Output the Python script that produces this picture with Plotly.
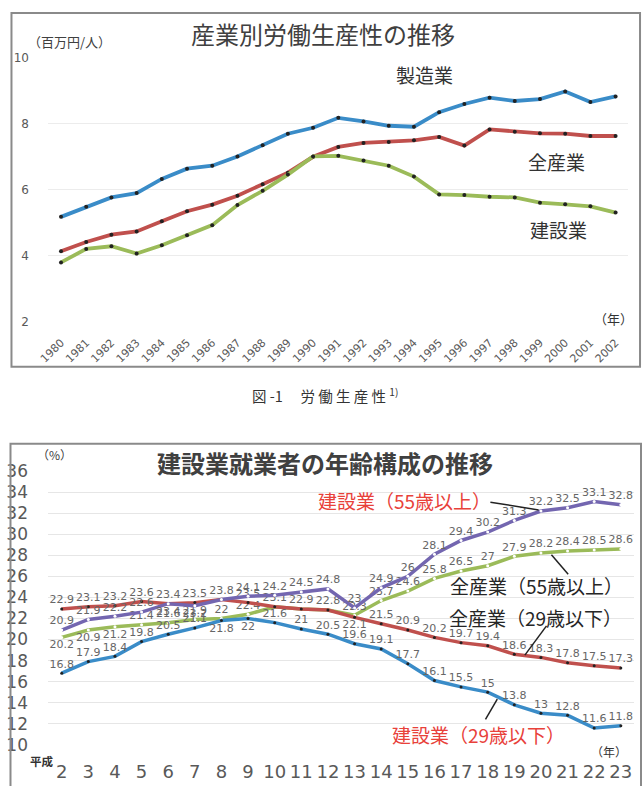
import plotly.graph_objects as go

W, H = 642, 786
FONT = "Noto Sans CJK JP"

# ---------- Chart 1 data ----------
years = list(range(1980, 2003))
year_labels = [str(y) for y in years]
manufacturing = [5.18, 5.49, 5.77, 5.90, 6.33, 6.64, 6.73, 7.01, 7.35, 7.70, 7.88, 8.18, 8.07,
                 7.94, 7.91, 8.35, 8.60, 8.79, 8.69, 8.75, 8.98, 8.66, 8.83]
all_industry = [4.14, 4.42, 4.64, 4.74, 5.05, 5.35, 5.55, 5.82, 6.17, 6.52, 7.00, 7.30, 7.42,
                7.45, 7.50, 7.60, 7.34, 7.83, 7.76, 7.71, 7.70, 7.63, 7.63]
construction = [3.80, 4.21, 4.29, 4.07, 4.32, 4.62, 4.93, 5.54, 5.97, 6.46, 7.01, 7.03, 6.89,
                6.73, 6.40, 5.86, 5.84, 5.79, 5.77, 5.61, 5.56, 5.50, 5.31]

# ---------- Chart 2 data ----------
heisei = list(range(2, 24))
con_u29 = [16.8, 17.9, 18.4, 19.8, 20.5, 21.1, 21.8, 22, 21.6, 21, 20.5, 19.6, 19.1, 17.7,
           16.1, 15.5, 15, 13.8, 13, 12.8, 11.6, 11.8]
all_u29 = [22.9, 23.1, 23.2, 23.6, 23.4, 23.5, 23.8, 23.5, 23.1, 22.9, 22.8, 22.1, 21.5, 20.9,
           20.2, 19.7, 19.4, 18.6, 18.3, 17.8, 17.5, 17.3]
con_o55 = [20.9, 21.9, 22.2, 22.6, 23.4, 23.2, 23.8, 24.1, 24.2, 24.5, 24.8, 23, 24.9, 26,
           28.1, 29.4, 30.2, 31.3, 32.2, 32.5, 33.1, 32.8]
all_o55 = [20.2, 20.9, 21.2, 21.4, 21.6, 21.9, 22, 22.4, 23.1, 22.9, 22.8, 22.3, 23.7, 24.6,
           25.8, 26.5, 27, 27.9, 28.2, 28.4, 28.5, 28.6]

BLUE = "#3a8cc8"
RED = "#c0504d"
GREEN = "#9bbb59"
PURPLE = "#7366b0"
GRAY = "#595959"
CLEAR = "rgba(0,0,0,0)"


def px(x):
    return x / W


def py(y):
    return 1 - y / H


def fmt(v):
    return ("%g" % v)


fig = go.Figure()

# Chart 1 traces
for vals, col in [(manufacturing, BLUE), (all_industry, RED), (construction, GREEN)]:
    fig.add_trace(go.Scatter(
        x=years, y=vals, mode="lines+markers", xaxis="x", yaxis="y",
        line=dict(color=col, width=3.8),
        marker=dict(color="#222222", size=4, line=dict(width=0)),
        showlegend=False, hoverinfo="skip"))


# Chart 2 traces
def labels(vals, hide=()):
    return ["" if i in hide else fmt(v) for i, v in enumerate(vals)]


def positions(n, bottom=()):
    return ["bottom center" if i in bottom else "top center" for i in range(n)]


tfont = dict(family="DejaVu Sans", size=11, color="#666666")
series2 = [
    (all_o55, GREEN, "white", labels(all_o55), positions(22, bottom=(0, 1, 2))),
    (all_u29, RED, "#222222", labels(all_u29, hide=(6, 8, 9, 10)), positions(22, bottom=(11,))),
    (con_o55, PURPLE, "white", labels(con_o55), positions(22, bottom=(4, 5))),
    (con_u29, BLUE, "#222222", labels(con_u29), positions(22, bottom=(6, 7))),
]
for vals, col, mcol, txt, pos in series2:
    fig.add_trace(go.Scatter(
        x=heisei, y=vals, mode="lines+markers+text", xaxis="x2", yaxis="y2",
        line=dict(color=col, width=3.5),
        marker=dict(color=mcol, size=3, line=dict(width=0)),
        text=txt, textposition=pos, textfont=tfont,
        showlegend=False, hoverinfo="skip", cliponaxis=False))

grid = "#e6e6e6"
fig.update_layout(
    width=W, height=H,
    margin=dict(l=0, r=0, t=0, b=0),
    paper_bgcolor="white", plot_bgcolor="white",
    font=dict(family=FONT, color=GRAY),
    xaxis=dict(domain=[px(39), px(628)], range=[1979.5, 2002.5],
               tickmode="array", tickvals=years, ticktext=year_labels,
               tickangle=-45, tickfont=dict(size=11, color=GRAY, family="DejaVu Sans"),
               showgrid=False, zeroline=False, showline=False,
               ticks="outside", ticklen=9, tickcolor=CLEAR,
               anchor="y", fixedrange=True),
    yaxis=dict(domain=[py(320), py(49)], range=[2, 10], dtick=2,
               tickfont=dict(size=12, color=GRAY, family="DejaVu Sans"),
               showgrid=True, gridcolor="#ececec", gridwidth=1, zeroline=False,
               showline=False, ticks="outside", ticklen=16, tickcolor=CLEAR,
               anchor="x", fixedrange=True),
    xaxis2=dict(domain=[px(39), px(634)], range=[1.5, 23.5],
                tickmode="array", tickvals=heisei, ticktext=[str(h) for h in heisei],
                tickfont=dict(size=18, color=GRAY, family="DejaVu Sans"),
                showgrid=False, zeroline=False, showline=False,
                ticks="outside", ticklen=11, tickcolor=CLEAR,
                anchor="y2", fixedrange=True),
    yaxis2=dict(domain=[py(754), py(473)], range=[10, 36], dtick=2,
                tickfont=dict(size=17, color=GRAY, family="DejaVu Sans"),
                showgrid=True, gridcolor=grid, gridwidth=1, zeroline=False,
                showline=False, ticks="outside", ticklen=16, tickcolor=CLEAR,
                anchor="x2", fixedrange=True),
)

shapes = [
    # chart 1 frame
    dict(type="rect", xref="paper", yref="paper", x0=px(1.5), x1=px(640), y0=py(366), y1=py(3),
         line=dict(color="#8a8a8a", width=2), fillcolor=CLEAR),
    # chart 2 frame
    dict(type="rect", xref="paper", yref="paper", x0=px(0.5), x1=px(641), y0=py(800), y1=py(445),
         line=dict(color="#8a8a8a", width=2), fillcolor=CLEAR),
    # pointer lines chart 2
    dict(type="line", xref="paper", yref="paper", x0=px(488), y0=py(505), x1=px(537), y1=py(513),
         line=dict(color="#222", width=1.5)),
    dict(type="line", xref="paper", yref="paper", x0=px(550), y0=py(559), x1=px(567), y1=py(579),
         line=dict(color="#222", width=1.5)),
    dict(type="line", xref="paper", yref="paper", x0=px(545), y0=py(632), x1=px(523), y1=py(662),
         line=dict(color="#222", width=1.5)),
    dict(type="line", xref="paper", yref="paper", x0=px(495), y0=py(707), x1=px(483), y1=py(728),
         line=dict(color="#222", width=1.5)),
]
fig.update_layout(shapes=shapes)


def ann(x, y, text, size, color="#404040", xanchor="center", family=FONT):
    return dict(x=px(x), y=py(y), xref="paper", yref="paper", text=text, showarrow=False,
                xanchor=xanchor, yanchor="middle", font=dict(size=size, color=color, family=family))


annotations = [
    ann(318, 24, "産業別労働生産性の推移", 24, "#404040"),
    ann(60, 32, "（百万円/人）", 13, "#404040"),
    ann(421, 66, "製造業", 19, "#333333"),
    ann(555, 155, "全産業", 19, "#333333"),
    ann(557, 225, "建設業", 19, "#333333"),
    ann(613, 317, "（年）", 13, "#333333"),
    ann(320, 395, "図 -1　 労 働 生 産 性 <sup>1)</sup>", 14.5, "#333333"),
    ann(320, 464, "<b>建設業就業者の年齢構成の推移</b>", 24, "#404040"),
    ann(45, 456, "（%）", 12, "#404040"),
    ann(401, 503, "建設業（55歳以上）", 19, "#e8413a"),
    ann(535, 591, "全産業（55歳以上）", 19, "#262626"),
    ann(534, 623, "全産業（29歳以下）", 19, "#262626"),
    ann(476, 743, "建設業（29歳以下）", 19, "#e8413a"),
    ann(608, 761, "（年）", 12, "#333333"),
    ann(33, 771, "<b>平成</b>", 11.5, "#333333"),
]
fig.update_layout(annotations=annotations)

fig.write_html("out.html")
